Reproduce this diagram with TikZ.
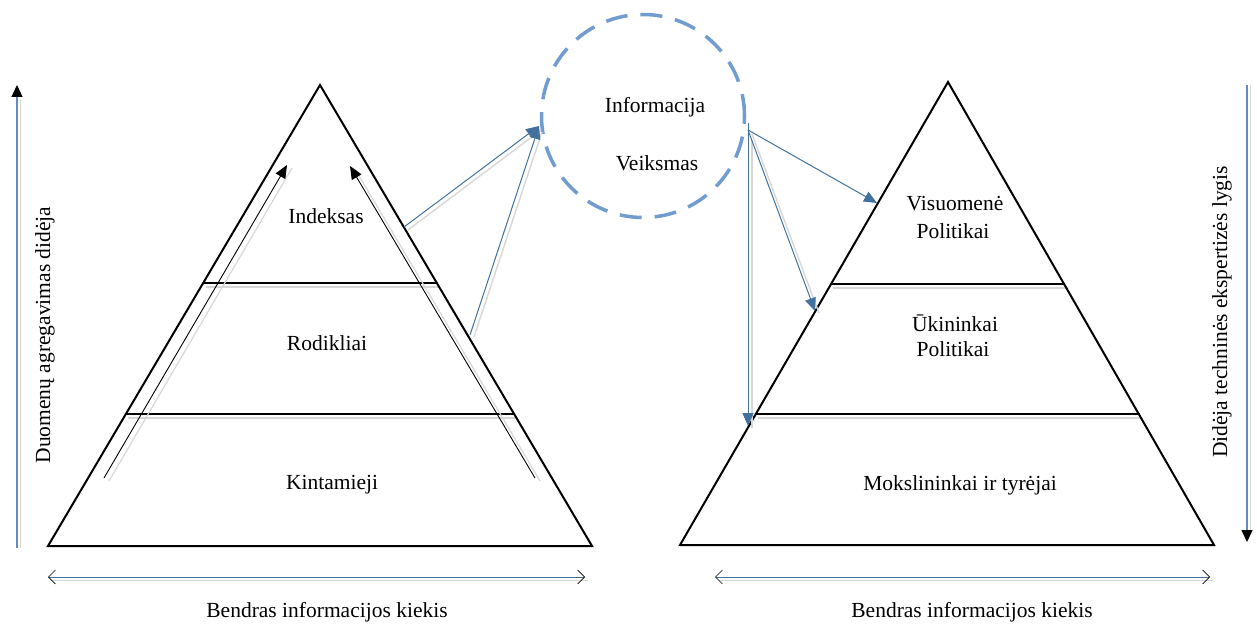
\documentclass[tikz,border=0pt]{standalone}
\usepackage{fontspec}
\setmainfont{Liberation Serif}
\usetikzlibrary{arrows.meta}
\definecolor{bluearr}{RGB}{65,113,156}
\definecolor{circblue}{RGB}{112,156,208}
\definecolor{sideblue}{RGB}{100,140,190}
\definecolor{shade}{RGB}{215,215,215}
\begin{document}
\begin{tikzpicture}[x=1pt,y=-1pt,
  lbl/.style={font=\fontsize{21.5}{25}\selectfont, inner sep=0pt, align=center},
  pyr/.style={draw=black, line width=2pt, line join=miter},
  layer/.style={draw=black, line width=1.1pt},
  shadowline/.style={draw=shade, line width=1.6pt},
  innerarrow/.style={draw=black, line width=0.9pt, -{Triangle[length=13pt,width=11pt]}},
  bluearrow/.style={draw=bluearr, line width=1pt, -{Triangle[length=13pt,width=11pt]}},
  sidearrow/.style={draw=sideblue, line width=1.1pt, -{Triangle[length=12pt,width=11pt,fill=black,color=black]}},
  spanarrow/.style={draw=bluearr, line width=1pt, {Straight Barb[length=7pt,width=14pt,color=black,line width=0.6pt]}-{Straight Barb[length=7pt,width=14pt,color=black,line width=0.6pt]}}
]
\useasboundingbox (0,0) rectangle (1257,628);

% ---------- left pyramid ----------
\coordinate (LA) at (320,85);
\coordinate (LL) at (48,546);
\coordinate (LR) at (592,546);
\draw[shadowline] (206,287) -- (440,287);
\draw[shadowline] (128,418) -- (518,418);
\draw[layer] (204,283) -- (437,283);
\draw[layer] (126,414) -- (514,414);
\draw[pyr] (LA) -- (LL) -- (LR) -- cycle;

\node[lbl] (indeksas) at (326,216) {Indeksas};
\node[lbl] (rodikliai) at (327,343) {Rodikliai};
\node[lbl] (kintamieji) at (332,485) {Kintamieji};

% inner arrows
\coordinate (ia1s) at (104,478); \coordinate (ia1e) at (287,165);
\coordinate (ia2s) at (535,478); \coordinate (ia2e) at (350,166);
\draw[draw=shade, line width=1.2pt] (109,481) -- (292,168);
\draw[draw=shade, line width=1.2pt] (540,481) -- (355,169);
\draw[innerarrow] (ia1s) -- (ia1e);
\draw[innerarrow] (ia2s) -- (ia2e);

% ---------- circle ----------
\node[circle, draw=circblue, line width=3.5pt, dash pattern=on 22pt off 13pt,
      minimum size=203pt, inner sep=0pt] (info) at (643,116) {};
\node[lbl] (infotxt) at (655,107) {Informacija};
\node[lbl] (veiksmas) at (657,163) {Veiksmas};

% arrows into the circle
\coordinate (fromidx) at (404,227);
\coordinate (fromrod) at (470,335);
\coordinate (intoinfo) at (539,126);
\draw[draw=shade, line width=1.4pt] (408,230) -- (541,130);
\draw[draw=shade, line width=1.4pt] (474,337) -- (542,132);
\draw[bluearrow] (fromrod) -- (intoinfo);
\draw[bluearrow] (fromidx) -- (intoinfo);

% ---------- right pyramid ----------
\coordinate (RA) at (948,82);
\coordinate (RL) at (680,545);
\coordinate (RR) at (1214,545);
\draw[shadowline] (833,288) -- (1068,288);
\draw[shadowline] (758,418) -- (1143,418);
\draw[layer] (831,284) -- (1065,284);
\draw[layer] (756,414) -- (1140,414);
\draw[pyr] (RA) -- (RL) -- (RR) -- cycle;

\node[lbl] (visuomene) at (955,204) {Visuomenė};
\node[lbl] (politikai1) at (953,231) {Politikai};
\node[lbl] (ukininkai) at (955,323) {Ūkininkai};
\node[lbl] (politikai2) at (953,349) {Politikai};
\node[lbl] (mokslininkai) at (960,485) {Mokslininkai ir tyrėjai};

% arrows out of the circle
\coordinate (outinfo) at (748,130);
\coordinate (tovis) at (877,203);
\coordinate (touki) at (815,311);
\coordinate (tomok) at (748,426);
\draw[draw=shade, line width=1.4pt] (752,134) -- (819,313);
\draw[draw=shade, line width=1.4pt] (752,140) -- (752,428);
\draw[bluearrow] (outinfo) -- (tovis);
\draw[bluearrow] (outinfo) -- (touki);
\draw[bluearrow] ([yshift=7pt]outinfo) -- (tomok);

% ---------- side arrows ----------
\coordinate (lside0) at (17,548);
\coordinate (lside1) at (17,85);
\draw[draw=shade, line width=1pt] (20,548) -- (20,100);
\draw[sidearrow] (lside0) -- (lside1);
\node[lbl, rotate=90] (agreg) at (45,335) {Duomenų agregavimas didėja};

\coordinate (rside0) at (1247,85);
\coordinate (rside1) at (1247,542);
\draw[draw=shade, line width=1pt] (1250,85) -- (1250,530);
\draw[sidearrow] (rside0) -- (rside1);
\node[lbl, rotate=90] (eksp) at (1222,312) {Didėja techninės ekspertizės lygis};

% ---------- bottom span arrows ----------
\coordinate (lb0) at (48,577); \coordinate (lb1) at (585,577);
\coordinate (rb0) at (715,577); \coordinate (rb1) at (1210,577);
\draw[draw=shade, line width=1pt] (52,580) -- (588,580);
\draw[draw=shade, line width=1pt] (719,580) -- (1213,580);
\draw[spanarrow] (lb0) -- (lb1);
\draw[spanarrow] (rb0) -- (rb1);
\node[lbl] (kiekis1) at (327,612) {Bendras informacijos kiekis};
\node[lbl] (kiekis2) at (972,612) {Bendras informacijos kiekis};
\end{tikzpicture}
\end{document}
